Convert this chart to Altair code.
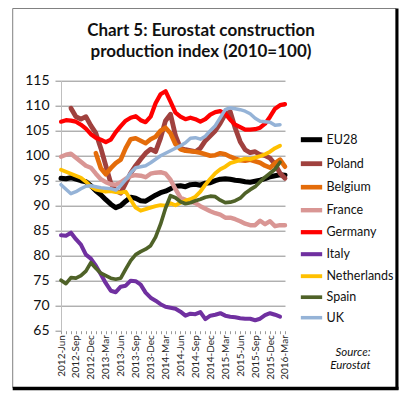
import altair as alt
import pandas as pd

months = list(pd.date_range("2012-06-01", periods=46, freq="MS").strftime("%Y-%b"))

series_names = ["EU28", "Poland", "Belgium", "France", "Germany", "Italy", "Netherlands", "Spain", "UK"]
series_colors = ["#000000", "#A0413E", "#E46C0A", "#D99694", "#FF0000", "#7030A0", "#FFC000", "#4F6228", "#95B3D7"]
series_widths = [5, 3.5, 3.5, 3.5, 3.5, 3.5, 3.5, 3.5, 3.5]

N = None
eu28 = [95.5, 95.4, 95.6, 95.3, 95.0, 94.8, 94.0, 93.0, 92.2, 91.2, 90.3, 89.6, 90.0, 90.9, 91.7, 91.5,
        91.0, 90.9, 91.5, 92.1, 92.6, 92.9, 93.4, 93.9, 94.0, 93.8, 94.2, 94.3, 94.1, 94.5, 94.6, 95.0,
        95.3, 95.4, 95.3, 95.1, 95.0, 94.8, 94.7, 94.9, 95.1, 95.4, 95.8, 96.0, 96.2, 96.1]
poland = [N, N, 109.5, 107.8, 107.3, 107.8, 106.0, 104.5, 101.5, 98.0, 94.5, 93.0, 92.5, 94.5, 96.5, 98.0,
          99.3, 100.5, 101.3, 100.8, 103.5, 107.0, 108.3, 104.0, 101.5, 101.2, 101.0, 100.8, 101.5, 103.0,
          104.0, 105.0, 106.5, 108.3, 108.8, 105.5, 102.8, 101.2, 100.6, 100.8, 100.2, 100.0, 99.5, 98.3,
          96.5, 95.5]
belgium = [N, N, N, N, N, N, N, 100.5, 97.5, 96.3, 97.5, 98.5, 99.2, 101.5, 103.3, 103.5, 103.0, 102.5,
           103.3, 103.8, 105.0, 105.6, 104.5, 102.3, 101.3, 101.0, 100.9, 100.8, 100.6, 100.3, 100.0, 100.1,
           100.5, 100.3, 99.8, 99.4, 99.1, 99.0, 99.2, 98.9, 98.6, 98.0, 97.6, 98.5, 99.2, 97.8]
france = [99.8, 100.2, 100.4, 99.6, 98.8, 98.0, 97.6, 96.4, 95.3, 94.7, 94.3, 94.2, 94.7, 95.4, 95.9, 96.1,
          96.0, 95.7, 96.4, 96.6, 96.7, 96.4, 95.2, 93.3, 91.6, 91.2, 90.8, 90.5, 89.9, 89.4, 88.9, 88.5,
          88.2, 87.6, 87.6, 87.3, 86.9, 86.4, 86.1, 86.1, 87.0, 86.3, 86.9, 85.9, 86.1, 86.1]
germany = [106.8, 107.1, 107.0, 106.8, 106.2, 105.4, 104.3, 103.6, 103.2, 102.7, 103.2, 104.7, 105.9, 107.0,
           107.6, 107.9, 107.1, 106.7, 107.8, 110.5, 112.3, 112.9, 110.8, 108.6, 107.8, 107.3, 107.6, 107.3,
           106.8, 107.3, 108.2, 108.7, 108.9, 108.4, 107.2, 106.2, 105.7, 105.2, 105.2, 105.3, 105.6, 106.4,
           107.8, 109.4, 110.1, 110.3]
italy = [84.1, 84.0, 84.6, 83.3, 82.2, 80.2, 79.4, 78.0, 76.3, 74.5, 73.0, 72.7, 73.8, 74.0, 75.0, 74.9,
         74.2, 72.6, 71.6, 71.0, 70.3, 69.8, 69.6, 69.4, 68.8, 68.0, 68.4, 68.3, 68.7, 67.3, 68.0, 68.2,
         68.5, 68.0, 67.8, 67.7, 67.5, 67.4, 67.4, 67.1, 67.4, 68.1, 68.5, 68.2, 67.8, N]
netherlands = [97.2, 96.8, 96.4, 96.0, 95.6, 94.8, 93.8, 93.2, 93.0, 92.8, 92.9, 92.7, 92.6, 92.8, 91.2, 89.6,
               89.0, 89.3, 89.6, 89.9, 90.1, 90.0, 90.5, 90.1, 90.6, 91.0, 91.3, 91.8, 92.8, 94.2, 95.4, 96.5,
               97.3, 97.8, 98.5, 98.8, 99.1, 99.4, 99.3, 99.6, 99.9, 100.3, 100.8, 101.5, 102.0, N]
spain = [75.1, 74.4, 75.6, 75.5, 76.0, 76.9, 78.6, 77.5, 76.5, 76.0, 75.5, 75.3, 75.5, 77.3, 79.0, 80.2,
         80.8, 81.3, 82.0, 83.7, 86.3, 89.5, 92.0, 91.6, 90.8, 90.4, 90.6, 91.0, 91.3, 91.7, 91.9, 91.8,
         91.1, 90.6, 90.7, 91.0, 91.5, 92.5, 93.2, 93.8, 94.8, 95.7, 96.5, 97.3, 98.7, N]
uk = [94.2, 93.3, 92.4, 92.8, 93.4, 93.9, 94.0, 93.8, 93.6, 93.5, 93.4, 93.1, 94.0, 95.2, 96.6, 97.6,
      97.8, 98.0, 98.6, 99.3, 100.0, 100.5, 101.0, 101.5, 102.0, 102.6, 103.5, 103.6, 103.3, 103.9, 105.0,
      106.0, 107.6, 109.2, 109.6, 109.4, 109.2, 108.9, 108.4, 107.5, 106.9, 106.8, 106.7, 106.1, 106.2, N]

y_ticks = [65, 70, 75, 80, 85, 90, 95, 100, 105, 110, 115]
title_lines = ["Chart 5: Eurostat construction", "production index (2010=100)"]
source_line1 = "Source:"
source_line2 = "Eurostat"

all_series = [eu28, poland, belgium, france, germany, italy, netherlands, spain, uk]
rows = []
for name, vals in zip(series_names, all_series):
    for m, v in zip(months, vals):
        if v is not None:
            rows.append({"month": m, "series": name, "value": v})
df = pd.DataFrame(rows)

FONT = "Lato"

lines = alt.Chart(df).mark_line(strokeJoin="round", strokeCap="round").encode(
    x=alt.X("month:O", sort=months, title=None,
            scale=alt.Scale(type="point", padding=0, domain=months),
            axis=alt.Axis(labelAngle=270, labelFontSize=10, labelFont=FONT, labelColor="#262626",
                          labelOverlap=False, domain=False, ticks=True, tickSize=3, tickColor="#9a9a9a",
                          labelPadding=1,
                          labelExpr="indexof(['Mar','Jun','Sep','Dec'], slice(datum.value, 5)) >= 0 ? datum.value : ''")),
    y=alt.Y("value:Q", title=None,
            scale=alt.Scale(domain=[65, 115], nice=False, zero=False),
            axis=alt.Axis(values=y_ticks, labelFontSize=14, labelFont=FONT, labelColor="#111111",
                          tickSize=6, tickColor="#8c8c8c", labelPadding=6,
                          domainColor="#bfbfbf", gridColor="#8c8c8c",
                          gridOpacity={"condition": {"test": "datum.value === 65", "value": 0}, "value": 1})),
    color=alt.Color("series:N", sort=series_names,
                    scale=alt.Scale(domain=series_names, range=series_colors),
                    legend=alt.Legend(title=None, orient="none", legendX=237, legendY=45.5,
                                      symbolType="stroke", symbolSize=455, symbolStrokeWidth=4.5,
                                      labelFont=FONT, labelFontSize=12.5, labelColor="#111111",
                                      labelOffset=1.5, rowPadding=0)),
    strokeWidth=alt.StrokeWidth("series:N", scale=alt.Scale(domain=series_names, range=series_widths),
                                legend=None),
)

one = pd.DataFrame({"a": [0]})

title = alt.Chart(one).mark_text(font=FONT, fontSize=17, fontWeight="bold", align="center",
                                  baseline="alphabetic", lineHeight=21, color="#111111").encode(
    x=alt.value(140), y=alt.value(-44.7), text=alt.value(title_lines))

source1 = alt.Chart(one).mark_text(font=FONT, fontSize=11.5, fontStyle="italic", align="right",
                                    baseline="alphabetic", color="#111111").encode(
    x=alt.value(309.5), y=alt.value(275.3), text=alt.value(source_line1))
source2 = alt.Chart(one).mark_text(font=FONT, fontSize=11.5, fontStyle="italic", align="right",
                                    baseline="alphabetic", color="#111111").encode(
    x=alt.value(309.5), y=alt.value(288.8), text=alt.value(source_line2))

frame = alt.Chart(one).mark_rect(fill=None, stroke="#7f7f7f", strokeWidth=1).encode(
    x=alt.value(-48.3), x2=alt.value(335), y=alt.value(-72.2), y2=alt.value(307))
right_edge = alt.Chart(one).mark_rule(stroke="#000000", strokeWidth=3).encode(
    x=alt.value(336), y=alt.value(-72.2), y2=alt.value(309))
bottom_edge = alt.Chart(one).mark_rule(stroke="#000000", strokeWidth=3.5).encode(
    x=alt.value(-48.3), x2=alt.value(337.5), y=alt.value(307.8))

chart = alt.layer(frame, right_edge, bottom_edge, lines, title, source1, source2).properties(
    width=224, height=250,
    autosize=alt.AutoSizeParams(type="none"),
    padding={"left": 53, "top": 72.7, "right": 114, "bottom": 60},
    background="white",
).configure_view(stroke=None)

chart.save("out.html", embed_options={"renderer": "svg", "actions": False})
